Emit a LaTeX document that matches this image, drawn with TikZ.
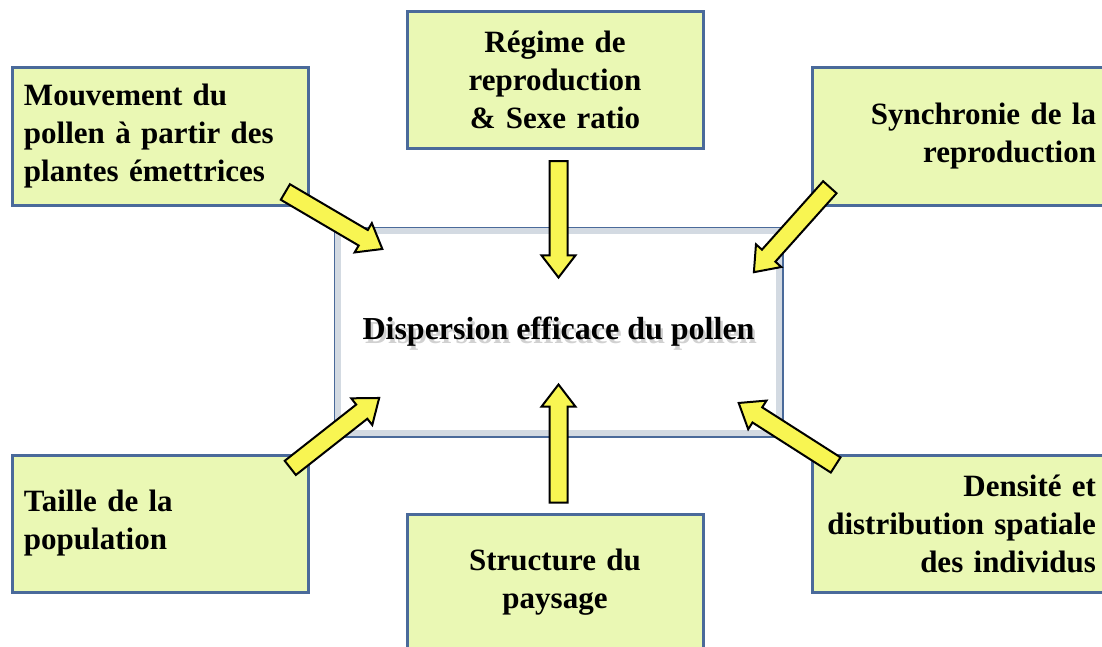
\documentclass[tikz,border=0pt]{standalone}
\usepackage{fontspec}
\setmainfont{Liberation Serif}
\usetikzlibrary{shapes.arrows,calc}

\definecolor{bordbleu}{HTML}{4A6A9A}
\definecolor{vertpale}{HTML}{EAF8B4}
\definecolor{jaune}{HTML}{F8F552}
\definecolor{ombre}{HTML}{D3DAE2}

\tikzset{
  facteur/.style={draw=bordbleu, line width=1.5pt, fill=vertpale, text width=136pt,
    inner xsep=6pt, minimum height=68.5pt, font=\bfseries\fontsize{15.5}{19}\selectfont},
  fleche/.style={single arrow, draw=black, fill=jaune, line width=1pt, inner xsep=0pt, inner ysep=4pt,
    single arrow head extend=4pt, single arrow tip angle=75, anchor=tail},
  titre/.style={font=\bfseries\fontsize{16}{19}\selectfont},
}

\newcommand\grossefleche[2]{%
  \path let \p1=(#1), \p2=(#2), \n1={atan2(\y2-\y1,\x2-\x1)}, \n2={veclen(\x2-\x1,\y2-\y1)} in
    node[fleche, minimum height=\n2, rotate=\n1] at (\p1) {};
}

\begin{document}
\begin{tikzpicture}[x=0.5pt, y=-0.5pt]

      \useasboundingbox (0,0) rectangle (1102,647);

      \begin{scope}
        \node[facteur, align=left]   (mouvement) at (160,136.5) {Mouvement du\\pollen à partir des\\plantes émettrices};
        \node[facteur, align=center] (regime)    at (555,80)    {Régime de\\reproduction\\\& Sexe ratio};
        \node[facteur, align=right]  (synchro)   at (960,136.5) {Synchronie de la\\reproduction};
        \node[facteur, align=left]   (taille)    at (160,523.5) {Taille de la\\population};
        \node[facteur, align=center] (structure) at (555,582.5) {Structure du\\paysage};
        \node[facteur, align=right]  (densite)   at (960,523.5) {Densité et\\distribution spatiale\\des individus};
      \end{scope}

      \node[draw=bordbleu, line width=1.5pt, minimum width=223.5pt, minimum height=104pt] (centre) at (558.5,332) {};
      \draw[ombre, line width=3pt] ($(centre.north west)+(4.5,4.5)$) rectangle ($(centre.south east)+(-4.5,-4.5)$);
      \node[titre, text=black!18] (titreombre) at ($(centre)+(2.5,3.5)$) {Dispersion efficace du pollen};
      \node[titre] (titre) at (centre) {Dispersion efficace du pollen};

      \coordinate (q1) at ($(mouvement.south east)+(-25,-15)$);
      \coordinate (p1) at ($(centre.north west)+(48,22)$);
      \coordinate (q2) at ($(regime.south)+(3.5,10)$);
      \coordinate (p2) at ($(centre.north)+(0,50)$);
      \coordinate (q3) at ($(synchro.south west)+(20,-20)$);
      \coordinate (p3) at ($(centre.north east)+(-29,45)$);
      \coordinate (q4) at ($(taille.north east)+(-20,15)$);
      \coordinate (p4) at ($(centre.south west)+(45,-39)$);
      \coordinate (q5) at ($(structure.north)+(3.5,-9)$);
      \coordinate (p5) at ($(centre.south)+(0,-52)$);
      \coordinate (q6) at ($(densite.north west)+(26,12)$);
      \coordinate (p6) at ($(centre.south east)+(-44,-34)$);

      \grossefleche{q1}{p1}
      \grossefleche{q2}{p2}
      \grossefleche{q3}{p3}
      \grossefleche{q4}{p4}
      \grossefleche{q5}{p5}
      \grossefleche{q6}{p6}

    \end{tikzpicture}
\end{document}
